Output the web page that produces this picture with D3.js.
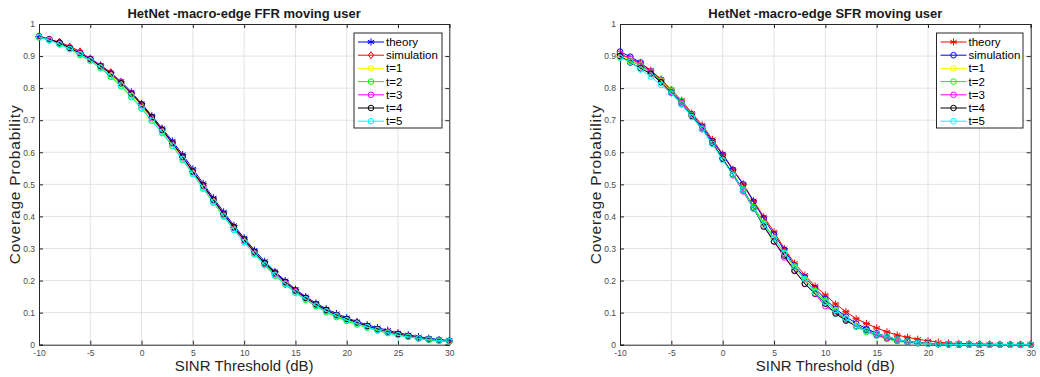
<!DOCTYPE html>
<html>
<head>
<meta charset="utf-8">
<title>HetNet macro-edge moving user</title>
<script src="https://d3js.org/d3.v7.min.js"></script>
<style>
    body { margin: 0; background: #fff; font-family: "Liberation Sans", Arial, sans-serif; }
    svg text { font-family: "Liberation Sans", Arial, sans-serif; }
</style>
</head>
<body>
<svg id="chart" width="1040" height="377"></svg>
<script>
    // SINR threshold (dB)
    let sinr = [-10,-9,-8,-7,-6,-5,-4,-3,-2,-1,0,1,2,3,4,5,6,7,8,9,10,11,12,13,14,15,16,17,18,19,20,21,22,23,24,25,26,27,28,29,30];
    let xTicks = [-10,-5,0,5,10,15,20,25,30];
    let yTicks = [0,0.1,0.2,0.3,0.4,0.5,0.6,0.7,0.8,0.9,1];
    let seriesNames = ["theory","simulation","t=1","t=2","t=3","t=4","t=5"];

    // FFR (left chart)
    let ffrTheory = [0.960,0.951,0.940,0.926,0.911,0.893,0.872,0.848,0.821,0.788,0.752,0.714,0.675,0.635,0.593,0.548,0.503,0.458,0.414,0.372,0.333,0.295,0.260,0.228,0.200,0.173,0.150,0.130,0.112,0.097,0.084,0.072,0.062,0.053,0.045,0.037,0.031,0.025,0.020,0.016,0.013];
    let ffrSim    = [0.962,0.950,0.945,0.930,0.915,0.890,0.870,0.850,0.818,0.785,0.748,0.708,0.672,0.628,0.588,0.540,0.498,0.452,0.408,0.367,0.328,0.288,0.255,0.222,0.188,0.168,0.146,0.125,0.108,0.093,0.080,0.070,0.058,0.048,0.040,0.033,0.027,0.021,0.017,0.014,0.011];
    let ffrT1     = [0.960,0.952,0.938,0.925,0.905,0.888,0.866,0.840,0.812,0.778,0.742,0.702,0.665,0.622,0.580,0.535,0.490,0.447,0.402,0.362,0.323,0.285,0.250,0.218,0.192,0.165,0.142,0.122,0.104,0.090,0.077,0.066,0.055,0.046,0.038,0.031,0.025,0.020,0.016,0.013,0.011];
    let ffrT2     = [0.958,0.950,0.937,0.922,0.903,0.885,0.862,0.835,0.806,0.772,0.736,0.698,0.660,0.620,0.576,0.532,0.487,0.443,0.400,0.358,0.320,0.282,0.248,0.215,0.188,0.162,0.140,0.120,0.101,0.086,0.074,0.063,0.053,0.044,0.036,0.030,0.024,0.019,0.015,0.012,0.010];
    let ffrT3     = [0.962,0.953,0.941,0.926,0.910,0.892,0.870,0.846,0.820,0.784,0.746,0.706,0.668,0.628,0.584,0.538,0.494,0.450,0.406,0.364,0.325,0.287,0.252,0.220,0.193,0.167,0.144,0.124,0.106,0.091,0.078,0.068,0.057,0.047,0.039,0.032,0.026,0.021,0.017,0.014,0.011];
    let ffrT4     = [0.961,0.952,0.942,0.925,0.908,0.890,0.868,0.845,0.815,0.783,0.750,0.710,0.670,0.630,0.586,0.540,0.497,0.452,0.408,0.366,0.328,0.290,0.255,0.225,0.196,0.170,0.146,0.126,0.108,0.092,0.080,0.069,0.058,0.048,0.040,0.033,0.027,0.021,0.017,0.014,0.012];
    let ffrT5     = [0.960,0.950,0.936,0.922,0.906,0.886,0.864,0.838,0.808,0.775,0.738,0.698,0.662,0.620,0.578,0.533,0.488,0.445,0.400,0.358,0.320,0.283,0.248,0.217,0.190,0.163,0.142,0.122,0.104,0.090,0.077,0.066,0.055,0.046,0.038,0.030,0.025,0.020,0.016,0.013,0.011];

    // SFR (right chart)
    let sfrTheory = [0.905,0.893,0.878,0.856,0.828,0.795,0.762,0.722,0.685,0.640,0.595,0.547,0.501,0.449,0.399,0.352,0.300,0.254,0.217,0.183,0.155,0.127,0.103,0.081,0.066,0.052,0.040,0.030,0.023,0.017,0.012,0.008,0.005,0.004,0.003,0.002,0.002,0.001,0.001,0.001,0.001];
    let sfrSim    = [0.914,0.898,0.880,0.852,0.826,0.792,0.758,0.718,0.680,0.635,0.592,0.545,0.500,0.446,0.394,0.344,0.296,0.246,0.210,0.176,0.142,0.112,0.088,0.066,0.050,0.036,0.025,0.016,0.010,0.006,0.004,0.002,0.001,0.001,0.001,0,0,0,0,0,0];
    let sfrT1     = [0.900,0.888,0.872,0.850,0.822,0.790,0.752,0.712,0.674,0.628,0.578,0.530,0.482,0.428,0.378,0.330,0.284,0.240,0.200,0.166,0.134,0.106,0.082,0.060,0.044,0.031,0.021,0.014,0.009,0.005,0.003,0.002,0.001,0.001,0,0,0,0,0,0,0];
    let sfrT2     = [0.898,0.885,0.870,0.848,0.825,0.795,0.760,0.716,0.676,0.630,0.582,0.532,0.485,0.430,0.380,0.332,0.286,0.242,0.204,0.168,0.136,0.104,0.080,0.056,0.040,0.028,0.018,0.011,0.007,0.004,0.002,0.001,0.001,0,0,0,0,0,0,0,0];
    let sfrT3     = [0.908,0.892,0.874,0.850,0.820,0.788,0.754,0.714,0.676,0.630,0.580,0.528,0.478,0.424,0.372,0.322,0.272,0.232,0.190,0.158,0.120,0.100,0.078,0.058,0.044,0.030,0.020,0.013,0.008,0.005,0.003,0.002,0.001,0,0,0,0,0,0,0,0];
    let sfrT4     = [0.900,0.880,0.862,0.845,0.818,0.785,0.750,0.712,0.672,0.628,0.580,0.530,0.482,0.426,0.368,0.322,0.278,0.230,0.190,0.160,0.128,0.097,0.075,0.058,0.046,0.034,0.024,0.016,0.010,0.006,0.004,0.002,0.001,0.001,0,0,0,0,0,0,0];
    let sfrT5     = [0.895,0.882,0.858,0.836,0.810,0.784,0.750,0.710,0.672,0.626,0.576,0.529,0.482,0.425,0.373,0.332,0.286,0.244,0.205,0.162,0.132,0.108,0.082,0.058,0.044,0.034,0.025,0.016,0.010,0.006,0.003,0.002,0.001,0.001,0,0,0,0,0,0,0];

    const svg = d3.select("#chart");

    function drawMarker(g, type, color, cx, cy) {
        if (type === "star") {
            const r = 3.6;
            [0, 60, 120].forEach(a => {
                const rad = a * Math.PI / 180;
                g.append("line")
                    .attr("x1", cx - r * Math.sin(rad)).attr("y1", cy - r * Math.cos(rad))
                    .attr("x2", cx + r * Math.sin(rad)).attr("y2", cy + r * Math.cos(rad))
                    .attr("stroke", color).attr("stroke-width", 1);
            });
            g.append("line").attr("x1", cx - r).attr("x2", cx + r).attr("y1", cy).attr("y2", cy)
                .attr("stroke", color).attr("stroke-width", 1);
        } else if (type === "diamond") {
            const r = 3.4;
            g.append("path")
                .attr("d", `M${cx},${cy - r}L${cx + r * 0.75},${cy}L${cx},${cy + r}L${cx - r * 0.75},${cy}Z`)
                .attr("fill", "none").attr("stroke", color).attr("stroke-width", 1);
        } else {
            g.append("circle").attr("cx", cx).attr("cy", cy).attr("r", 2.8)
                .attr("fill", "none").attr("stroke", color).attr("stroke-width", 1);
        }
    }

    function drawPanel(opts) {
        const left = opts.left, right = opts.right, top = 24, bottom = 344.7;
        const x = d3.scaleLinear().domain([-10, 30]).range([left, right]);
        const y = d3.scaleLinear().domain([0, 1]).range([bottom, top]);
        const g = svg.append("g");

        // grid
        g.append("g").selectAll("line").data(xTicks.slice(1, -1)).join("line")
            .attr("x1", d => x(d)).attr("x2", d => x(d)).attr("y1", top).attr("y2", bottom)
            .attr("stroke", "#e3e3e3").attr("stroke-width", 1);
        g.append("g").selectAll("line").data(yTicks.slice(1, -1)).join("line")
            .attr("y1", d => y(d)).attr("y2", d => y(d)).attr("x1", left).attr("x2", right)
            .attr("stroke", "#e3e3e3").attr("stroke-width", 1);

        // axes with inward ticks
        const axB = d3.axisBottom(x).tickValues(xTicks).tickSize(-4).tickPadding(5).tickFormat(d => String(d));
        const axT = d3.axisTop(x).tickValues(xTicks).tickSize(-4).tickFormat("");
        const axL = d3.axisLeft(y).tickValues(yTicks).tickSize(-4).tickPadding(4).tickFormat(d => d === 0 || d === 1 ? d : d3.format(".1f")(d));
        const axR = d3.axisRight(y).tickValues(yTicks).tickSize(-4).tickFormat("");
        [[axB, `translate(0,${bottom})`], [axT, `translate(0,${top})`], [axL, `translate(${left},0)`], [axR, `translate(${right},0)`]]
            .forEach(([ax, tr]) => {
                const a = g.append("g").attr("transform", tr).call(ax);
                a.select(".domain").attr("stroke", "#262626").attr("stroke-width", 1);
                a.selectAll(".tick line").attr("stroke", "#262626");
                a.selectAll("text").attr("fill", "#4a4a4a").style("font-size", "8.5px");
            });

        // series
        const line = d3.line().x((d, i) => x(sinr[i])).y(d => y(d));
        opts.series.forEach(s => {
            g.append("path").datum(s.values).attr("d", line)
                .attr("fill", "none").attr("stroke", s.color).attr("stroke-width", 1);
            const mg = g.append("g");
            s.values.forEach((v, i) => drawMarker(mg, s.marker, s.color, x(sinr[i]), y(v)));
        });

        // title and labels
        g.append("text").attr("x", (left + right) / 2).attr("y", 18).attr("text-anchor", "middle")
            .style("font-size", "13px").style("font-weight", "bold").attr("fill", "#1a1a1a").text(opts.title);
        g.append("text").attr("x", (left + right) / 2).attr("y", 371).attr("text-anchor", "middle")
            .style("font-size", "15px").attr("fill", "#262626").text("SINR Threshold (dB)");
        g.append("text").attr("transform", `translate(${left - 19},${(top + bottom) / 2 + 0.5}) rotate(-90)`)
            .attr("text-anchor", "middle").style("font-size", "15.5px")
            .attr("textLength", 159).attr("lengthAdjust", "spacing")
            .attr("fill", "#262626").text("Coverage Probability");

        // legend
        const lx = opts.legendX, ly = 33, lw = opts.legendW, lh = 95;
        const lg = g.append("g");
        lg.append("rect").attr("x", lx).attr("y", ly).attr("width", lw).attr("height", lh)
            .attr("fill", "#fff").attr("stroke", "#262626").attr("stroke-width", 1);
        opts.series.forEach((s, i) => {
            const yy = ly + 9 + i * 13.2;
            lg.append("line").attr("x1", lx + 4).attr("x2", lx + 30).attr("y1", yy).attr("y2", yy)
                .attr("stroke", s.color).attr("stroke-width", 1);
            drawMarker(lg, s.marker, s.color, lx + 17, yy);
            lg.append("text").attr("x", lx + 32).attr("y", yy + 4).style("font-size", "11.5px")
                .attr("fill", "#000").text(seriesNames[i]);
        });
    }

    drawPanel({
        left: 39, right: 449.3, title: "HetNet -macro-edge FFR moving user",
        legendX: 354, legendW: 88,
        series: [
            { values: ffrTheory, color: "#0000ff", marker: "star" },
            { values: ffrSim, color: "#ff0000", marker: "diamond" },
            { values: ffrT1, color: "#ffff00", marker: "circle" },
            { values: ffrT2, color: "#00ff00", marker: "circle" },
            { values: ffrT3, color: "#ff00ff", marker: "circle" },
            { values: ffrT4, color: "#000000", marker: "circle" },
            { values: ffrT5, color: "#00ffff", marker: "circle" }
        ]
    });

    drawPanel({
        left: 620, right: 1030.7, title: "HetNet -macro-edge SFR moving user",
        legendX: 936.5, legendW: 86.5,
        series: [
            { values: sfrTheory, color: "#ff0000", marker: "star" },
            { values: sfrSim, color: "#0000ff", marker: "circle" },
            { values: sfrT1, color: "#ffff00", marker: "circle" },
            { values: sfrT2, color: "#00ff00", marker: "circle" },
            { values: sfrT3, color: "#ff00ff", marker: "circle" },
            { values: sfrT4, color: "#000000", marker: "circle" },
            { values: sfrT5, color: "#00ffff", marker: "circle" }
        ]
    });
</script>
</body>
</html>
